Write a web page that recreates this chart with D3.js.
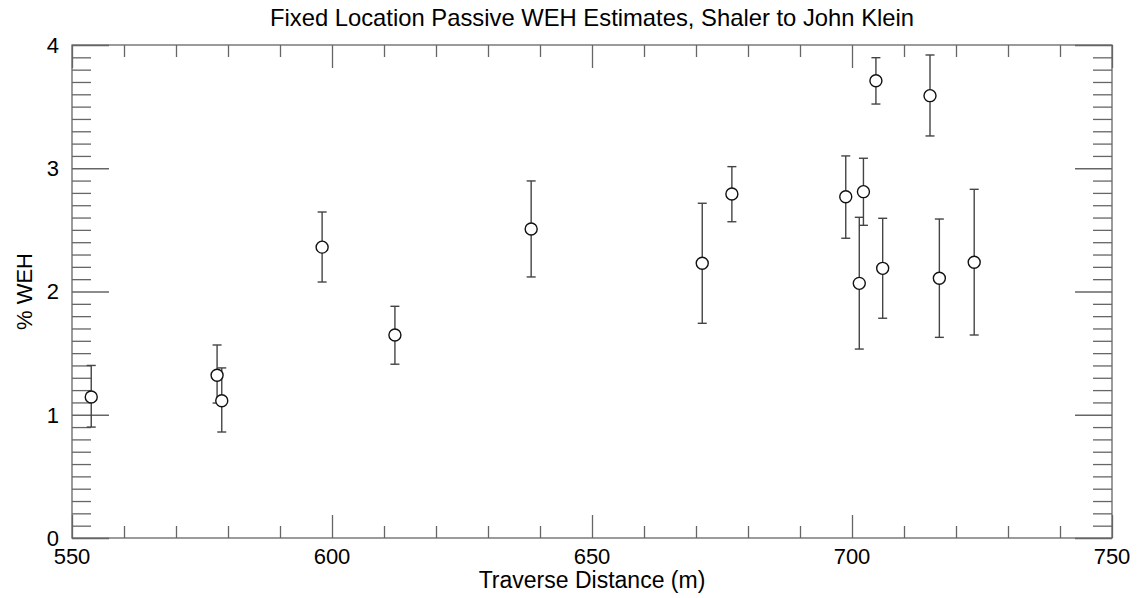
<!DOCTYPE html>
<html><head><meta charset="utf-8">
<script src="https://cdn.jsdelivr.net/npm/d3@7"></script>
<style>body{margin:0;background:#fff}svg{display:block}text{font-family:"Liberation Sans",Arial,sans-serif;fill:#000}</style>
</head><body><svg id="c" width="1139" height="598"></svg>
<script>
const distance = [553.7, 577.9, 578.8, 598.1, 612.1, 638.3, 671.2, 676.9, 698.8, 702.2, 701.4, 705.9, 716.8, 723.5, 704.6, 715.0];
const weh      = [1.144, 1.32, 1.114, 2.36, 1.647, 2.507, 2.229, 2.791, 2.769, 2.81, 2.066, 2.188, 2.107, 2.237, 3.71, 3.589];
const wehHigh  = [1.40, 1.566, 1.38, 2.645, 1.88, 2.897, 2.716, 3.013, 3.10, 3.081, 2.602, 2.594, 2.588, 2.829, 3.897, 3.919];
const wehLow   = [0.90, 1.095, 0.86, 2.077, 1.41, 2.118, 1.742, 2.566, 2.432, 2.537, 1.533, 1.783, 1.628, 1.647, 3.521, 3.262];
const xMajor = [550, 600, 650, 700, 750];
const yMajor = [0, 1, 2, 3, 4];
const title = "Fixed Location Passive WEH Estimates, Shaler to John Klein";
const xTitle = "Traverse Distance (m)";
const yTitle = "% WEH";

const svg = d3.select("#c");
const L = 72, R = 1112, T = 45, B = 538;
const x = d3.scaleLinear().domain([550, 750]).range([L, R]);
const y = d3.scaleLinear().domain([0, 4]).range([B, T]);
const axisColor = "#666";
const fs = 22;

const xMinor = d3.range(550, 751, 10).filter(v => !xMajor.includes(v));
const yMinor = d3.range(0, 40.5, 1).map(v => v / 10).filter(v => !yMajor.some(m => Math.abs(m - v) < 1e-9));

function styleAxis(g) {
  g.select(".domain").remove();
  g.selectAll(".tick line").attr("stroke", axisColor).attr("stroke-width", 1.3);
  g.selectAll("text").remove();
}
// bottom
svg.append("g").attr("transform", `translate(0,${B})`).call(d3.axisTop(x).tickValues(xMajor).tickSize(23)).call(styleAxis);
svg.append("g").attr("transform", `translate(0,${B})`).call(d3.axisTop(x).tickValues(xMinor).tickSize(12)).call(styleAxis);
// top
svg.append("g").attr("transform", `translate(0,${T})`).call(d3.axisBottom(x).tickValues(xMajor).tickSize(23)).call(styleAxis);
svg.append("g").attr("transform", `translate(0,${T})`).call(d3.axisBottom(x).tickValues(xMinor).tickSize(12)).call(styleAxis);
// left
svg.append("g").attr("transform", `translate(${L},0)`).call(d3.axisRight(y).tickValues(yMajor).tickSize(37)).call(styleAxis);
svg.append("g").attr("transform", `translate(${L},0)`).call(d3.axisRight(y).tickValues(yMinor).tickSize(19)).call(styleAxis);
// right
svg.append("g").attr("transform", `translate(${R},0)`).call(d3.axisLeft(y).tickValues(yMajor).tickSize(37)).call(styleAxis);
svg.append("g").attr("transform", `translate(${R},0)`).call(d3.axisLeft(y).tickValues(yMinor).tickSize(19)).call(styleAxis);

// frame
svg.append("rect").attr("x", L).attr("y", T).attr("width", R - L).attr("height", B - T)
  .attr("fill", "none").attr("stroke", axisColor).attr("stroke-width", 1.3);

// tick labels
svg.selectAll(".xl").data(xMajor).join("text")
  .attr("x", d => x(d)).attr("y", 564).attr("text-anchor", "middle")
  .attr("font-size", fs).text(d => d);
svg.selectAll(".yl").data(yMajor).join("text")
  .attr("x", 59).attr("y", d => y(d)).attr("dy", "0.36em").attr("text-anchor", "end")
  .attr("font-size", fs).text(d => d);

// titles
svg.append("text").attr("x", (L + R) / 2).attr("y", 26).attr("text-anchor", "middle")
  .attr("font-size", 23.8).text(title);
svg.append("text").attr("x", (L + R) / 2).attr("y", 588).attr("text-anchor", "middle")
  .attr("font-size", 23).text(xTitle);
svg.append("text").attr("transform", `translate(32,${(T + B) / 2}) rotate(-90)`).attr("text-anchor", "middle")
  .attr("font-size", fs).text(yTitle);

// data
const data = distance.map((d, i) => ({ x: d, y: weh[i], hi: wehHigh[i], lo: wehLow[i] }));
const eb = svg.append("g").attr("stroke", "#444").attr("stroke-width", 1.4).attr("fill", "none");
eb.selectAll(".v").data(data).join("line")
  .attr("x1", d => x(d.x)).attr("x2", d => x(d.x)).attr("y1", d => y(d.hi)).attr("y2", d => y(d.lo));
eb.selectAll(".ct").data(data).join("line")
  .attr("x1", d => x(d.x) - 4.5).attr("x2", d => x(d.x) + 4.5).attr("y1", d => y(d.hi)).attr("y2", d => y(d.hi));
eb.selectAll(".cb").data(data).join("line")
  .attr("x1", d => x(d.x) - 4.5).attr("x2", d => x(d.x) + 4.5).attr("y1", d => y(d.lo)).attr("y2", d => y(d.lo));
svg.append("g").selectAll("circle").data(data).join("circle")
  .attr("cx", d => x(d.x)).attr("cy", d => y(d.y)).attr("r", 6)
  .attr("fill", "#fff").attr("stroke", "#111").attr("stroke-width", 1.4);
</script></body></html>
